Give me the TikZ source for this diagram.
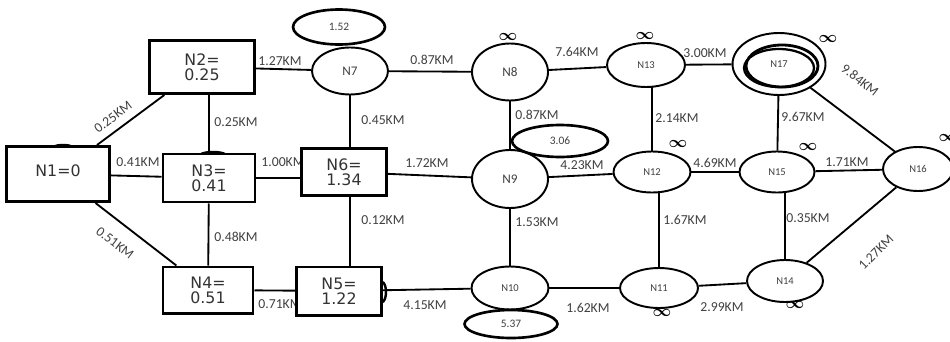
\documentclass[tikz,border=0pt]{standalone}
\usepackage{amsmath}
\usepackage{fontspec}
\setmainfont{Carlito}
\newfontfamily\boxfont{DejaVu Sans}
\usetikzlibrary{shapes.geometric, backgrounds, calc}
\tikzset{
    % Text
    kmText/.style={font=\fontsize{7.8}{8}\selectfont, text=black!75, inner sep=0pt},
    infText/.style={font=\fontsize{9}{9}\selectfont, inner sep=0pt},
    % Shapes
    stopbox/.style={rectangle, draw, line width=1.7pt, fill=white, align=center, inner sep=1pt,
                    font=\boxfont\fontsize{9}{8.5}\selectfont, text=black!80},
    crossing/.style={ellipse, draw, line width=1.1pt, fill=white, inner sep=0pt,
                     font=\fontsize{6}{6}\selectfont, text=black!75},
    bigtext/.style={font=\fontsize{7.5}{7.5}\selectfont},
    costtag/.style={ellipse, draw, line width=1.5pt, fill=white, inner sep=0pt,
                    font=\fontsize{6.5}{6.5}\selectfont, text=black!75},
    wh/.style 2 args={minimum width=#1, minimum height=#2},
    % Roads
    road/.style={line width=1.05pt},
    bump/.style={line width=1.4pt}
}

\begin{document}
\begin{tikzpicture}[x=0.2mm, y=-0.2mm]
\useasboundingbox (0,0) rectangle (950,341);

% start and visited stops
\node[stopbox, wh={20.6mm}{11mm}] (n1) at (58,174) {\raisebox{1.2mm}{N1=0}};
\node[stopbox, wh={21mm}{10.6mm}] (n2) at (202,67) {N2=\\0.25};
\node[stopbox, wh={18.4mm}{9.6mm}] (n3) at (209,178) {N3=\\0.41};
\node[stopbox, wh={18mm}{9.2mm}] (n4) at (208,290) {N4=\\0.51};
\node[stopbox, wh={17mm}{9.6mm}] (n5) at (339,291) {N5=\\1.22};
\node[stopbox, wh={17mm}{9.4mm}] (n6) at (344,172) {N6=\\1.34};

% crossings
\node[crossing, bigtext, wh={15.2mm}{9.4mm}] (n7) at (350,71) {N7};
\node[crossing, bigtext, wh={15.2mm}{11.4mm}] (n8) at (510,72) {N8};
\node[crossing, bigtext, wh={15.2mm}{11.6mm}] (n9) at (510,179) {N9};
\node[crossing, wh={15.4mm}{8.6mm}] (n10) at (510,288) {N10};
\node[crossing, wh={15.6mm}{8mm}] (n11) at (659,288) {N11};
\node[crossing, wh={15.4mm}{8.2mm}] (n12) at (652,172) {N12};
\node[crossing, wh={15.6mm}{8.8mm}] (n13) at (646,65) {N13};
\node[crossing, wh={15.2mm}{8.4mm}] (n14) at (785,281) {N14};
\node[crossing, wh={15mm}{8.2mm}] (n15) at (777,172) {N15};
\node[crossing, wh={14mm}{8.8mm}] (n16) at (918,169) {N16};
\node[crossing, wh={18.6mm}{12.4mm}] (n17) at (779,64) {N17};
\draw[line width=1.6pt] ($(n17)+(3,2)$) ellipse [x radius=7.2mm, y radius=4.2mm];
\draw[line width=1.3pt] ($(n17)+(0,4)$) ellipse [x radius=7mm, y radius=3.8mm];

% tentative costs
\node[costtag, wh={18.4mm}{7mm}] (c7) at (339,27) {1.52};
\node[costtag, wh={19.2mm}{6.4mm}] (c9) at (560,141) {3.06};
\node[costtag, wh={18.6mm}{5.6mm}] (c10) at (511,324) {5.37};

\node[infText] (i8) at (508,37) {$\boldsymbol\infty$};
\node[infText] (i13) at (645,36) {$\boldsymbol\infty$};
\node[infText] (i17) at (828,39) {$\boldsymbol\infty$};
\node[infText] (i12) at (678,144) {$\boldsymbol\infty$};
\node[infText] (i15) at (808,147) {$\boldsymbol\infty$};
\node[infText] (i16) at (948,138) {$\boldsymbol\infty$};
\node[infText] (i11) at (662,313) {$\boldsymbol\infty$};
\node[infText] (i14) at (795,305) {$\boldsymbol\infty$};

\begin{scope}[on background layer]
% distances
\node[kmText, rotate=37] (l12) at (113,117) {0.25KM};
\node[kmText] (l13) at (138,162) {0.41KM};
\node[kmText, rotate=-37] (l14) at (115,243) {0.51KM};
\node[kmText] (l27) at (280,61) {1.27KM};
\node[kmText] (l23) at (236,122) {0.25KM};
\node[kmText] (l36) at (283,162) {1.00KM};
\node[kmText] (l34) at (236,237) {0.48KM};
\node[kmText] (l45) at (280,304) {0.71KM};
\node[kmText] (l78) at (432,60) {0.87KM};
\node[kmText] (l76) at (383,120) {0.45KM};
\node[kmText] (l69) at (427,163) {1.72KM};
\node[kmText] (l65) at (383,220) {0.12KM};
\node[kmText] (l510) at (425,305) {4.15KM};
\node[kmText] (l813) at (577,52) {7.64KM};
\node[kmText] (l89) at (537,115) {0.87KM};
\node[kmText] (l912) at (582,165) {4.23KM};
\node[kmText] (l910) at (537,222) {1.53KM};
\node[kmText] (l1011) at (588,308) {1.62KM};
\node[kmText] (l1317) at (705,53) {3.00KM};
\node[kmText] (l1312) at (677,118) {2.14KM};
\node[kmText] (l1715) at (803,117) {9.67KM};
\node[kmText] (l1215) at (715,163) {4.69KM};
\node[kmText] (l1516) at (847,162) {1.71KM};
\node[kmText] (l1211) at (685,220) {1.67KM};
\node[kmText] (l1514) at (808,218) {0.35KM};
\node[kmText] (l1114) at (722,307) {2.99KM};
\node[kmText, rotate=45] (l1416) at (876,252) {1.27KM};
\node[kmText, rotate=-38] (l1716) at (860,80) {9.84KM};

% small marks behind the boxes
\draw[bump] (63,151) ellipse [x radius=2.8mm, y radius=1.2mm];
\draw[bump] (213,157) ellipse [x radius=3mm, y radius=1mm];
\draw[bump] (382,292) ellipse [x radius=0.8mm, y radius=2mm];

% roads
\draw[road] (n1) -- (n2);
\draw[road] (n1) -- (n3);
\draw[road] (n1) -- (n4);
\draw[road] (n2) -- (n7);
\draw[road] (n2 -| n3) -- (n3);
\draw[road] (n3) -- (n4);
\draw[road] (n3) -- (n3 -| n6);
\draw[road] (n4) -- (n5);
\draw[road] (n7) -- (n7 |- n6);
\draw[road] (n6 -| n7) -- (n5 -| n7);
\draw[road] (n6) -- (n9);
\draw[road] (n7) -- (n8);
\draw[road] (n8) -- (n9);
\draw[road] (n9) -- (n10);
\draw[road] (n5) -- (n10);
\draw[road] (n8) -- (n13);
\draw[road] (n9) -- (n12);
\draw[road] (n10) -- (n11);
\draw[road] (n13 -| n12) -- (n12);
\draw[road] (n12 -| n11) -- (n11);
\draw[road] (n12) -- (n15);
\draw[road] (n13) -- (n17);
\draw[road] (n17) -- (n15);
\draw[road] (n17) -- (n16);
\draw[road] (n15) -- (n16);
\draw[road] (n15 -| n14) -- (n14);
\draw[road] (n11) -- (n14);
\draw[road] (n14) -- (n16);
\end{scope}

\end{tikzpicture}
\end{document}
